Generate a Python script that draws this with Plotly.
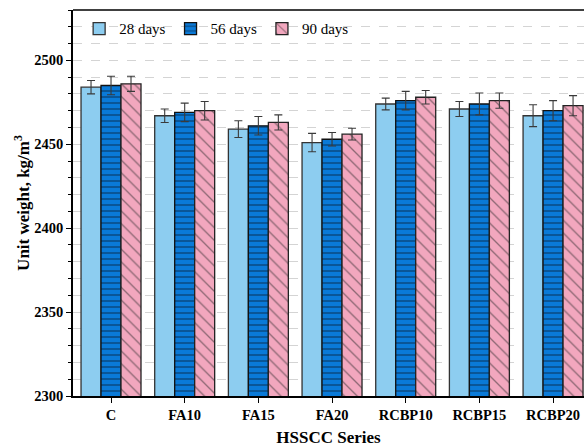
import plotly.graph_objects as go

categories = ["C", "FA10", "FA15", "FA20", "RCBP10", "RCBP15", "RCBP20"]
days28 = [2484, 2467, 2459, 2451, 2474, 2471, 2467]
days56 = [2485, 2469, 2461, 2453, 2476, 2474, 2470]
days90 = [2486, 2470, 2463, 2456, 2478, 2476, 2473]
err28 = [4, 4, 5, 5.5, 3.5, 4.5, 6.5]
err56 = [5.5, 5.5, 5.5, 4, 5.5, 6.5, 6]
err90 = [4.5, 5.5, 4.5, 3.5, 4, 4.5, 6]
series_names = ["28 days", "56 days", "90 days"]

FONT = "Liberation Serif, Times New Roman, serif"

fig = go.Figure()
eb = dict(type="data", visible=True, color="#3a3a3a", thickness=1.1, width=4)

fig.add_trace(go.Bar(
    x=categories, y=days28, name=series_names[0],
    marker=dict(color="#8DCDF0", line=dict(color="#333333", width=1.3)),
    error_y=dict(array=err28, **eb),
))
fig.add_trace(go.Bar(
    x=categories, y=days56, name=series_names[1],
    marker=dict(color="#0A7AD8", line=dict(color="#111111", width=1.3),
                pattern=dict(shape="-", fgcolor="#0a1a2a", bgcolor="#0A7AD8", size=6, solidity=0.25)),
    error_y=dict(array=err56, **eb),
))
fig.add_trace(go.Bar(
    x=categories, y=days90, name=series_names[2],
    marker=dict(color="#F2A7BE", line=dict(color="#222222", width=1.3),
                pattern=dict(shape="\\", fgcolor="#2a2a2a", bgcolor="#F2A7BE", size=9, solidity=0.15)),
    error_y=dict(array=err90, **eb),
))

fig.update_layout(
    width=584, height=447,
    margin=dict(l=73, r=0, t=10, b=51),
    paper_bgcolor="white", plot_bgcolor="white",
    barmode="group", bargap=0.186, bargroupgap=0,
    font=dict(family=FONT, size=14, color="black"),
    showlegend=True,
    legend=dict(orientation="h", x=0.012, y=0.994, xanchor="left", yanchor="top",
                bgcolor="rgba(255,255,255,0)", font=dict(family=FONT, size=15, color="black"),
                itemwidth=30, tracegroupgap=0),
)

fig.update_xaxes(
    range=[-0.516, 6.42], automargin=False,
    showline=True, linecolor="black", linewidth=1.5, mirror=False,
    ticks="outside", ticklen=5, tickwidth=1.2, tickcolor="black",
    tickfont=dict(family=FONT, size=14.5, color="black", weight="bold"),
    title=dict(text="<b>HSSCC Series</b>", font=dict(family=FONT, size=17, color="black"), standoff=14),
    showgrid=False,
)
fig.update_yaxes(
    range=[2300, 2530], automargin=False,
    dtick=50, tick0=2300,
    showline=True, linecolor="black", linewidth=1.5,
    ticks="outside", ticklen=5, tickwidth=1.2, tickcolor="black",
    tickfont=dict(family=FONT, size=14.5, color="black", weight="bold"),
    title=dict(text="<b>Unit weight, kg/m<sup>3</sup></b>", font=dict(family=FONT, size=17, color="black"), standoff=0),
    showgrid=True, gridcolor="#d4d4d4", griddash="dash", gridwidth=1,
    zeroline=False,
    minor=dict(dtick=10, tick0=2300, ticks="outside", ticklen=3, tickcolor="black", tickwidth=1,
               showgrid=True, gridcolor="#d4d4d4", griddash="dash", gridwidth=1),
)

# top border line
fig.add_shape(type="line", xref="paper", yref="paper", x0=0, x1=1, y0=1, y1=1,
              line=dict(color="black", width=1.5))

fig.write_html("out.html")
